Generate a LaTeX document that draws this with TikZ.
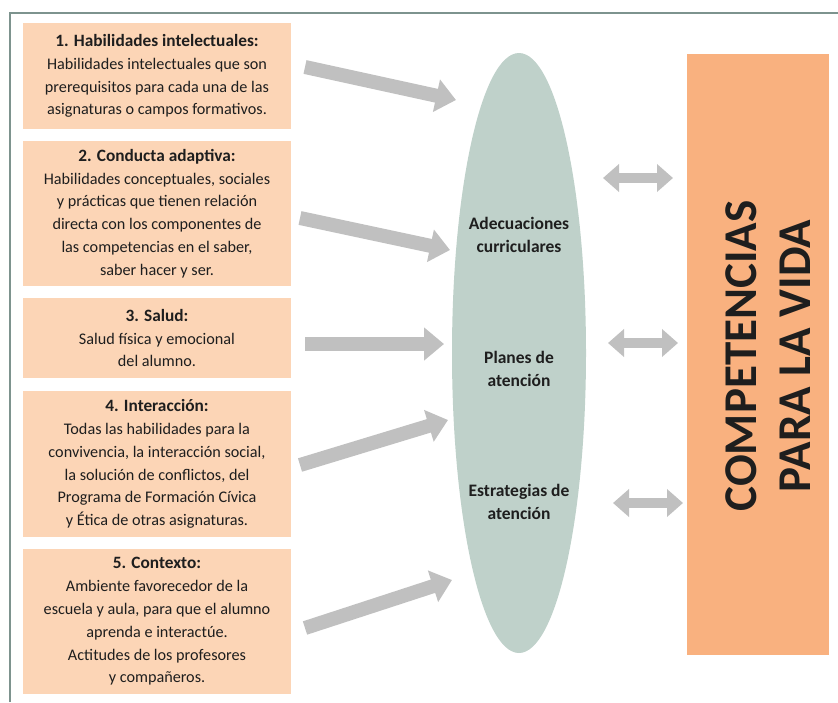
\documentclass[tikz,border=0pt]{standalone}
\usepackage{fontspec}
\setmainfont{Carlito}
\usetikzlibrary{arrows.meta,shapes.geometric}
\definecolor{peach}{HTML}{FCD5B6}
\definecolor{orangebar}{HTML}{F9B17F}
\definecolor{sage}{HTML}{BFD1CA}
\definecolor{framecol}{HTML}{7D938E}
\definecolor{arrowgray}{HTML}{C0C0C0}
\definecolor{ink}{HTML}{1E1E1E}
\newcommand\tit[1]{{\fontsize{17.3}{22.8}\selectfont\bfseries #1}}
\begin{document}
\begin{tikzpicture}[x=1pt,y=-1pt,
  factor/.style={fill=peach,minimum width=268pt,align=center,text=ink,
    inner sep=0pt,font=\fontsize{16.2}{22.8}\selectfont},
  inside/.style={font=\fontsize{17.5}{23}\selectfont\bfseries,align=center,text=ink},
  feed/.style={arrowgray,line width=14pt,-{Triangle[length=20pt,width=32pt]}},
  link/.style={arrowgray,line width=10pt,{Triangle[length=16pt,width=27pt]}-{Triangle[length=16pt,width=27pt]}}]
\useasboundingbox (0,0) rectangle (838,702);
\draw [framecol,line width=1.5pt] (10,702) -- (10,13) -- (838,13);
% factores
\node [factor,minimum height=106pt] (hab) at (157,76)
  {\tit{1. Habilidades intelectuales:}\\Habilidades intelectuales que son\\prerequisitos para cada una de las\\asignaturas o campos formativos.};
\node [factor,minimum height=145pt] (cond) at (157,213.5)
  {\tit{2. Conducta adaptiva:}\\Habilidades conceptuales, sociales\\y prácticas que tienen relación\\directa con los componentes de\\las competencias en el saber,\\saber hacer y ser.};
\node [factor,minimum height=80pt] (sal) at (157,338)
  {\tit{3. Salud:}\\Salud física y emocional\\del alumno.};
\node [factor,minimum height=146pt] (inter) at (157,464)
  {\tit{4. Interacción:}\\Todas las habilidades para la\\convivencia, la interacción social,\\la solución de conflictos, del\\Programa de Formación Cívica\\y Ética de otras asignaturas.};
\node [factor,minimum height=145pt] (ctx) at (157,621.5)
  {\tit{5. Contexto:}\\Ambiente favorecedor de la\\escuela y aula, para que el alumno\\aprenda e interactúe.\\Actitudes de los profesores\\y compañeros.};
% elipse central y barra
\node [ellipse,fill=sage,minimum width=134pt,minimum height=600pt,inner sep=0pt] (adec) at (519,353) {};
\node [inside] (ac) at (519,235) {Adecuaciones\\curriculares};
\node [inside] (pa) at (519,369) {Planes de\\atención};
\node [inside] (ea) at (519,502) {Estrategias de\\atención};
\node [fill=orangebar,minimum width=142pt,minimum height=601pt,inner sep=0pt] (comp) at (758,354.5) {};
\node [rotate=90,align=center,text=ink,font=\fontsize{47}{54}\selectfont\bfseries] (ctxt) at (768,356) {COMPETENCIAS\\PARA LA VIDA};
% flechas
\coordinate (s1) at (305,67);  \coordinate (t1) at (456,100);
\coordinate (s2) at (300,218); \coordinate (t2) at (450,250);
\coordinate (s3) at (305,344); \coordinate (t3) at (444,344);
\coordinate (s4) at (300,465); \coordinate (t4) at (448,420);
\coordinate (s5) at (305,628); \coordinate (t5) at (452,580);
\foreach \i in {1,...,5}
  \draw [feed] (s\i) -- (t\i);
\coordinate (l1) at (603,178); \coordinate (r1) at (673,178);
\coordinate (l2) at (608,343); \coordinate (r2) at (678,343);
\coordinate (l3) at (613,503); \coordinate (r3) at (683,503);
\foreach \i in {1,2,3}
  \draw [link] (l\i) -- (r\i);
\end{tikzpicture}
\end{document}
